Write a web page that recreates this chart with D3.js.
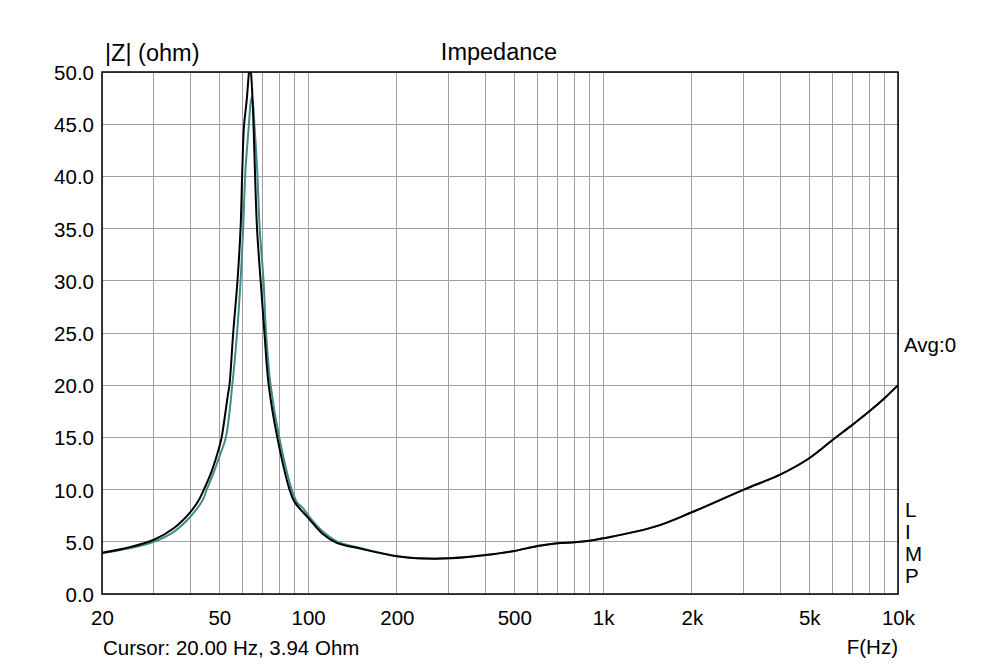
<!DOCTYPE html>
<html>
<head>
<meta charset="utf-8">
<script src="https://cdn.jsdelivr.net/npm/d3@7"></script>
<style>
  html, body { margin: 0; padding: 0; background: #fff; }
  svg { display: block; }
  text { font-family: "Liberation Sans", Arial, sans-serif; fill: #000; }
</style>
</head>
<body>
<svg id="chart" width="1000" height="666"></svg>
<script>
// ---- data ----
const blackFreq = [20, 25, 30, 35, 40, 42.6, 44.3, 47, 50, 50.9, 53.4, 54.1, 55.7, 57.6, 59.0, 59.8, 60.6, 61.9, 63.0, 63.5, 64.0, 64.8, 65.3, 66.0, 67.1, 69.0, 71.1, 73.5, 78.6, 86.5, 90, 100, 111.6, 125, 150, 200, 250, 300, 400, 500, 600, 700, 800, 900, 1000, 1500, 2000, 3000, 4000, 5000, 6000, 7000, 8000, 9000, 10000];
const blackZ    = [3.94, 4.5, 5.2, 6.3, 7.9, 9.0, 10.0, 11.7, 14.1, 15.0, 19.0, 20.0, 25.0, 30.0, 35.0, 40.6, 44.8, 47.3, 50.0, 50.8, 50.0, 47.3, 44.8, 40.6, 35.0, 30.0, 25.0, 20.0, 15.0, 10.0, 8.8, 7.3, 5.8, 4.9, 4.35, 3.62, 3.4, 3.42, 3.74, 4.12, 4.6, 4.86, 4.95, 5.1, 5.33, 6.45, 7.83, 10.0, 11.46, 13.0, 14.75, 16.2, 17.5, 18.75, 20.0];

const tealFreq = [20, 25, 30, 35, 40, 43.9, 45.3, 47.5, 50, 52.6, 55.3, 57.4, 59.0, 60.2, 61.3, 62.9, 63.8, 64.4, 65.0, 65.8, 67.2, 68.5, 70.6, 72.0, 74.6, 79.8, 88, 92, 95.5, 100, 105, 112, 125, 150, 200, 250, 300, 400, 500, 600, 700, 800, 900, 1000, 1500, 2000, 3000, 4000, 5000, 6000, 7000, 8000, 9000, 10000];
const tealZ    = [3.9, 4.4, 5.0, 5.95, 7.45, 9.0, 10.0, 11.4, 13.15, 15.0, 20.0, 25.0, 30.0, 35.0, 40.6, 44.8, 47.0, 47.6, 47.0, 44.8, 40.6, 35.0, 30.0, 25.0, 20.0, 15.0, 10.0, 8.7, 8.3, 7.55, 6.8, 6.0, 5.05, 4.4, 3.62, 3.4, 3.42, 3.74, 4.12, 4.6, 4.86, 4.95, 5.1, 5.33, 6.45, 7.83, 10.0, 11.46, 13.0, 14.75, 16.2, 17.5, 18.75, 20.0];

const xTickValues = [20, 50, 100, 200, 500, 1000, 2000, 5000, 10000];
const xTickLabels = ["20", "50", "100", "200", "500", "1k", "2k", "5k", "10k"];
const xGridValues = [20, 30, 40, 50, 60, 70, 80, 90, 100, 200, 300, 400, 500, 600, 700, 800, 900, 1000, 2000, 3000, 4000, 5000, 6000, 7000, 8000, 9000, 10000];
const yTickValues = [0, 5, 10, 15, 20, 25, 30, 35, 40, 45, 50];
const yTickLabels = ["0.0", "5.0", "10.0", "15.0", "20.0", "25.0", "30.0", "35.0", "40.0", "45.0", "50.0"];
const limpLetters = ["L", "I", "M", "P"];

// ---- layout ----
const L = 102, R = 898, T = 72, B = 594;
const svg = d3.select("#chart");

const x = d3.scaleLog().domain([20, 10000]).range([L, R]);
const y = d3.scaleLinear().domain([0, 50]).range([B, T]);

// grid
svg.append("g").selectAll("line").data(xGridValues).join("line")
  .attr("x1", d => x(d)).attr("x2", d => x(d))
  .attr("y1", T).attr("y2", B)
  .attr("stroke", "#a0a0a0").attr("stroke-width", 1).attr("shape-rendering", "crispEdges");
svg.append("g").selectAll("line").data(yTickValues).join("line")
  .attr("x1", L).attr("x2", R)
  .attr("y1", d => y(d)).attr("y2", d => y(d))
  .attr("stroke", "#a0a0a0").attr("stroke-width", 1).attr("shape-rendering", "crispEdges");

// axes (labels only, via d3 axes)
const xAxis = d3.axisBottom(x).tickValues(xTickValues)
  .tickFormat((d, i) => xTickLabels[i]).tickSize(0).tickPadding(0);
const gx = svg.append("g").attr("transform", `translate(0,${B})`).call(xAxis);
gx.select(".domain").remove();
gx.selectAll("text").attr("dy", null).attr("y", 31)
  .style("font-size", "20.5px").style("font-family", '"Liberation Sans", Arial, sans-serif').attr("fill", "#000");

const yAxis = d3.axisLeft(y).tickValues(yTickValues)
  .tickFormat((d, i) => yTickLabels[i]).tickSize(0).tickPadding(0);
const gy = svg.append("g").attr("transform", `translate(${L - 8},0)`).call(yAxis);
gy.select(".domain").remove();
gy.selectAll("text").attr("dy", null).attr("x", 0).attr("y", 7.4)
  .style("font-size", "20.5px").style("font-family", '"Liberation Sans", Arial, sans-serif').attr("fill", "#000");

// clip
svg.append("clipPath").attr("id", "plotclip")
  .append("rect").attr("x", L).attr("y", T).attr("width", R - L).attr("height", B - T);

const line = d3.line()
  .x(d => x(d[0])).y(d => y(d[1]))
  .curve(d3.curveCatmullRom.alpha(0.5));

const tealData = tealFreq.map((f, i) => [f, tealZ[i]]);
const blackData = blackFreq.map((f, i) => [f, blackZ[i]]);

svg.append("path").datum(tealData).attr("d", line)
  .attr("fill", "none").attr("stroke", "#418c88").attr("stroke-width", 2)
  .attr("clip-path", "url(#plotclip)");
svg.append("path").datum(blackData).attr("d", line)
  .attr("fill", "none").attr("stroke", "#000").attr("stroke-width", 2)
  .attr("clip-path", "url(#plotclip)");

// frame
svg.append("rect").attr("x", L).attr("y", T).attr("width", R - L).attr("height", B - T)
  .attr("fill", "none").attr("stroke", "#000").attr("stroke-width", 1.5);

// texts
svg.append("text").attr("x", 105).attr("y", 61).style("font-size", "23.5px").text("|Z| (ohm)");
svg.append("text").attr("x", 499).attr("y", 60).attr("text-anchor", "middle").style("font-size", "23.5px").text("Impedance");
svg.append("text").attr("x", 103).attr("y", 655).style("font-size", "20.5px").text("Cursor: 20.00 Hz, 3.94 Ohm");
svg.append("text").attr("x", 898).attr("y", 654).attr("text-anchor", "end").style("font-size", "20.5px").text("F(Hz)");
svg.append("text").attr("x", 904).attr("y", 352).style("font-size", "20.5px").text("Avg:0");
svg.append("g").selectAll("text").data(limpLetters).join("text")
  .attr("x", 905).attr("y", (d, i) => 517 + i * 22)
  .style("font-size", "20.5px").text(d => d);
</script>
</body>
</html>
